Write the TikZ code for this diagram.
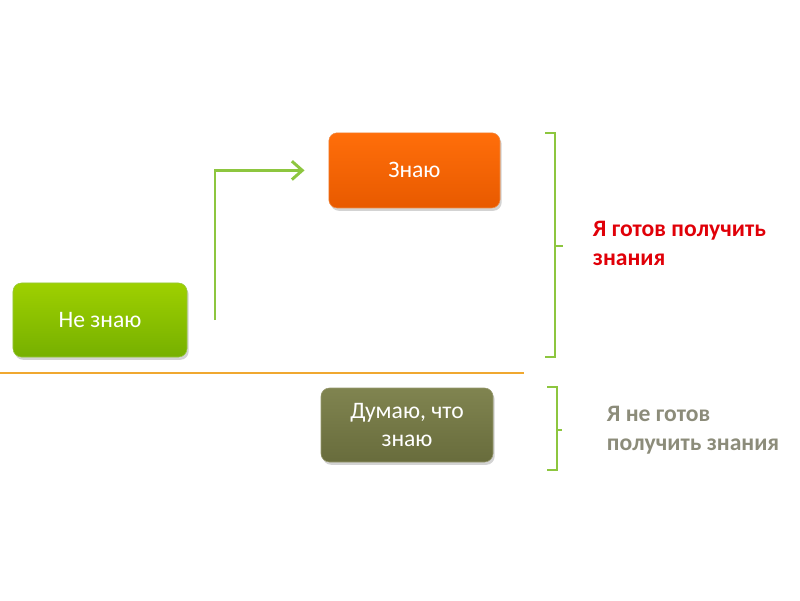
\documentclass[tikz,border=0pt]{standalone}
\usepackage{fontspec}
\setmainfont{Carlito}
\usetikzlibrary{arrows.meta,shadows}

\definecolor{leafgreen}{HTML}{8DC63F}
\definecolor{linegold}{HTML}{F0A830}
\definecolor{readyred}{HTML}{E00008}
\definecolor{notgray}{HTML}{8C8C7A}

\begin{document}
\begin{tikzpicture}[
  font=\fontsize{16.8}{20.6}\selectfont,
  box/.style={rounded corners=6pt, minimum width=4.3cm, minimum height=1.85cm,
    align=center, text=white, line width=0.4pt,
    drop shadow={opacity=0.35, shadow xshift=1.2pt, shadow yshift=-2pt}},
  greenbox/.style={box, top color={rgb,255:red,158;green,208;blue,0}, bottom color={rgb,255:red,118;green,176;blue,0}, draw={rgb,255:red,150;green,200;blue,60}},
  orangebox/.style={box, top color={rgb,255:red,255;green,110;blue,10}, bottom color={rgb,255:red,232;green,90;blue,0}, draw={rgb,255:red,240;green,140;blue,70}},
  olivebox/.style={box, top color={rgb,255:red,128;green,132;blue,80}, bottom color={rgb,255:red,104;green,108;blue,60}, draw={rgb,255:red,150;green,152;blue,110}},
  arr/.style={-{Straight Barb[length=2.6mm,width=4.6mm]}, line width=2.1pt, leafgreen},
  brace/.style={line width=2.1pt, leafgreen},
  note/.style={font=\bfseries\fontsize{16.8}{20.6}\selectfont, align=left, anchor=west},
]
\useasboundingbox (0,0) rectangle (20,15);

% ====== BOXES ======
\node[greenbox, minimum width=4.35cm] (dontknow) at (2.5, 7.0) {Не знаю};
\node[orangebox, minimum width=4.28cm, minimum height=1.88cm] (know) at (10.36, 10.74) {Знаю};
\node[olivebox] (think) at (10.175, 4.375) {Думаю, что\\знаю};

% Arrow - step up
\coordinate (start) at (5.375, 7.0);
\draw[arr, shorten >=0.6cm] (start) |- (know.west);

% Divider
\draw[line width=2.1pt, linegold] (0, 5.675) -- (13.1, 5.675);

% ====== BRACES ======
\draw[brace] (13.625, 11.675) -- (13.875, 11.675) -- (13.875, 6.075) -- (13.625, 6.075);
\draw[brace] (13.875, 8.85) -- (14.075, 8.85);
\draw[brace] (13.675, 5.325) -- (13.925, 5.325) -- (13.925, 3.25) -- (13.675, 3.25);
\draw[brace] (13.925, 4.25) -- (14.05, 4.25);

% Labels
\node[note, text=readyred] (ready) at (14.7, 8.91) {Я готов получить\\знания};
\node[note, text=notgray] (notready) at (15.05, 4.24) {Я не готов\\получить знания};

\end{tikzpicture}
\end{document}
